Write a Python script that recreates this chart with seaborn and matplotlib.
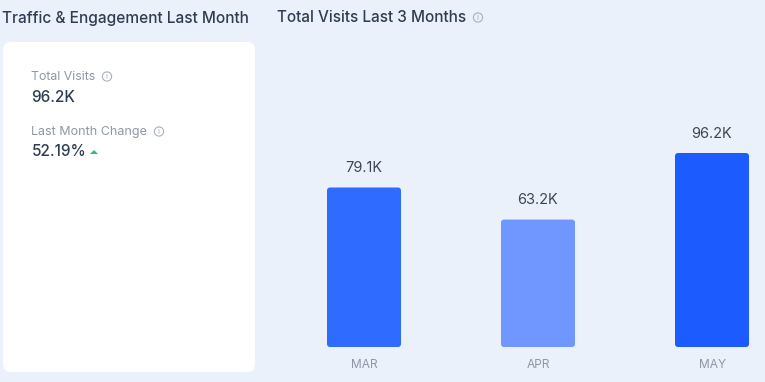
import matplotlib
matplotlib.use("Agg")
import matplotlib.pyplot as plt
from matplotlib.patches import FancyBboxPatch, Circle, Polygon
import seaborn as sns
import pandas as pd

months = ["MAR", "APR", "MAY"]
visits = [79.1, 63.2, 96.2]
value_labels = ["79.1K", "63.2K", "96.2K"]
bar_colors = ["#2F6BFF", "#7096FF", "#1C5CFF"]

sns.set_theme(style="white")
plt.rcParams['font.family'] = ['Inter', 'DejaVu Sans']

BG = "#EBF1FA"
DARK = "#2F3D52"
GREY = "#8E97A6"
W, H = 765, 382
fig = plt.figure(figsize=(W / 100, H / 100), dpi=100, facecolor=BG)

# Full-figure overlay in pixel coordinates for the card and text
page = fig.add_axes([0, 0, 1, 1])
page.set_xlim(0, W)
page.set_ylim(H, 0)
page.axis("off")

page.add_patch(FancyBboxPatch((3, 42), 252, 330, boxstyle="round,pad=0,rounding_size=8",
                              fc="white", ec="none"))

def info(x, y, r=4.6, color="#A9B1BE"):
    page.add_patch(Circle((x, y), r, fc="none", ec=color, lw=0.8))
    page.text(x, y + 0.2, "i", fontsize=6, color=color, ha="center", va="center")

page.text(2.5, 18, "Traffic & Engagement Last Month", fontsize=11.1, color=DARK, va="center", fontweight=500)
page.text(277.5, 18, "Total Visits Last 3 Months", fontsize=11.05, color=DARK, va="center", fontweight=500)
info(478, 17.5)

page.text(31.5, 76.5, "Total Visits", fontsize=8.9, color=GREY, va="center")
info(107, 76.5)
page.text(31.5, 97, "96.2K", fontsize=11, color=DARK, va="center", fontweight=500)
page.text(31.5, 131.5, "Last Month Change", fontsize=9.0, color=GREY, va="center")
info(159, 131.5)
page.text(31.5, 152, "52.19%", fontsize=11, color=DARK, va="center", fontweight=500)
page.add_patch(Polygon([(90, 154), (98, 154), (94, 150)], closed=True, fc="#2DBE7E", ec="none"))

# Bar chart
ax = fig.add_axes([277 / W, (H - 347) / H, (W - 277) / W, 305 / H])
ax.patch.set_alpha(0)
df = pd.DataFrame({"month": months, "visits": visits})
sns.barplot(data=df, x="month", y="visits", hue="month", palette=bar_colors,
            width=74 / 174, legend=False, ax=ax, saturation=1)
ax.set_xlim(-0.5, (W - 364) / 174)
ax.set_ylim(0, 305 / (194 / 96.2))

px_y = 194 / 96.2
for patch, label in zip(list(ax.patches), value_labels):
    x, w, h = patch.get_x(), patch.get_width(), patch.get_height()
    ax.add_patch(FancyBboxPatch((x, 0), w, h, boxstyle=f"round,pad=0,rounding_size={3 / 174}",
                                mutation_aspect=174 / px_y, fc=patch.get_facecolor(), ec="none"))
    patch.set_visible(False)
    ax.annotate(label, (x + w / 2, h), xytext=(0, 9), textcoords="offset points",
                ha="center", va="bottom", fontsize=10.5, color="#3D4654")

ax.set_xlabel("")
ax.set_ylabel("")
ax.set_yticks([])
ax.tick_params(axis="x", length=0, pad=9, labelsize=8.6, labelcolor=GREY)
sns.despine(ax=ax, left=True, bottom=True)

fig.savefig("out.png", dpi=100, facecolor=BG)
